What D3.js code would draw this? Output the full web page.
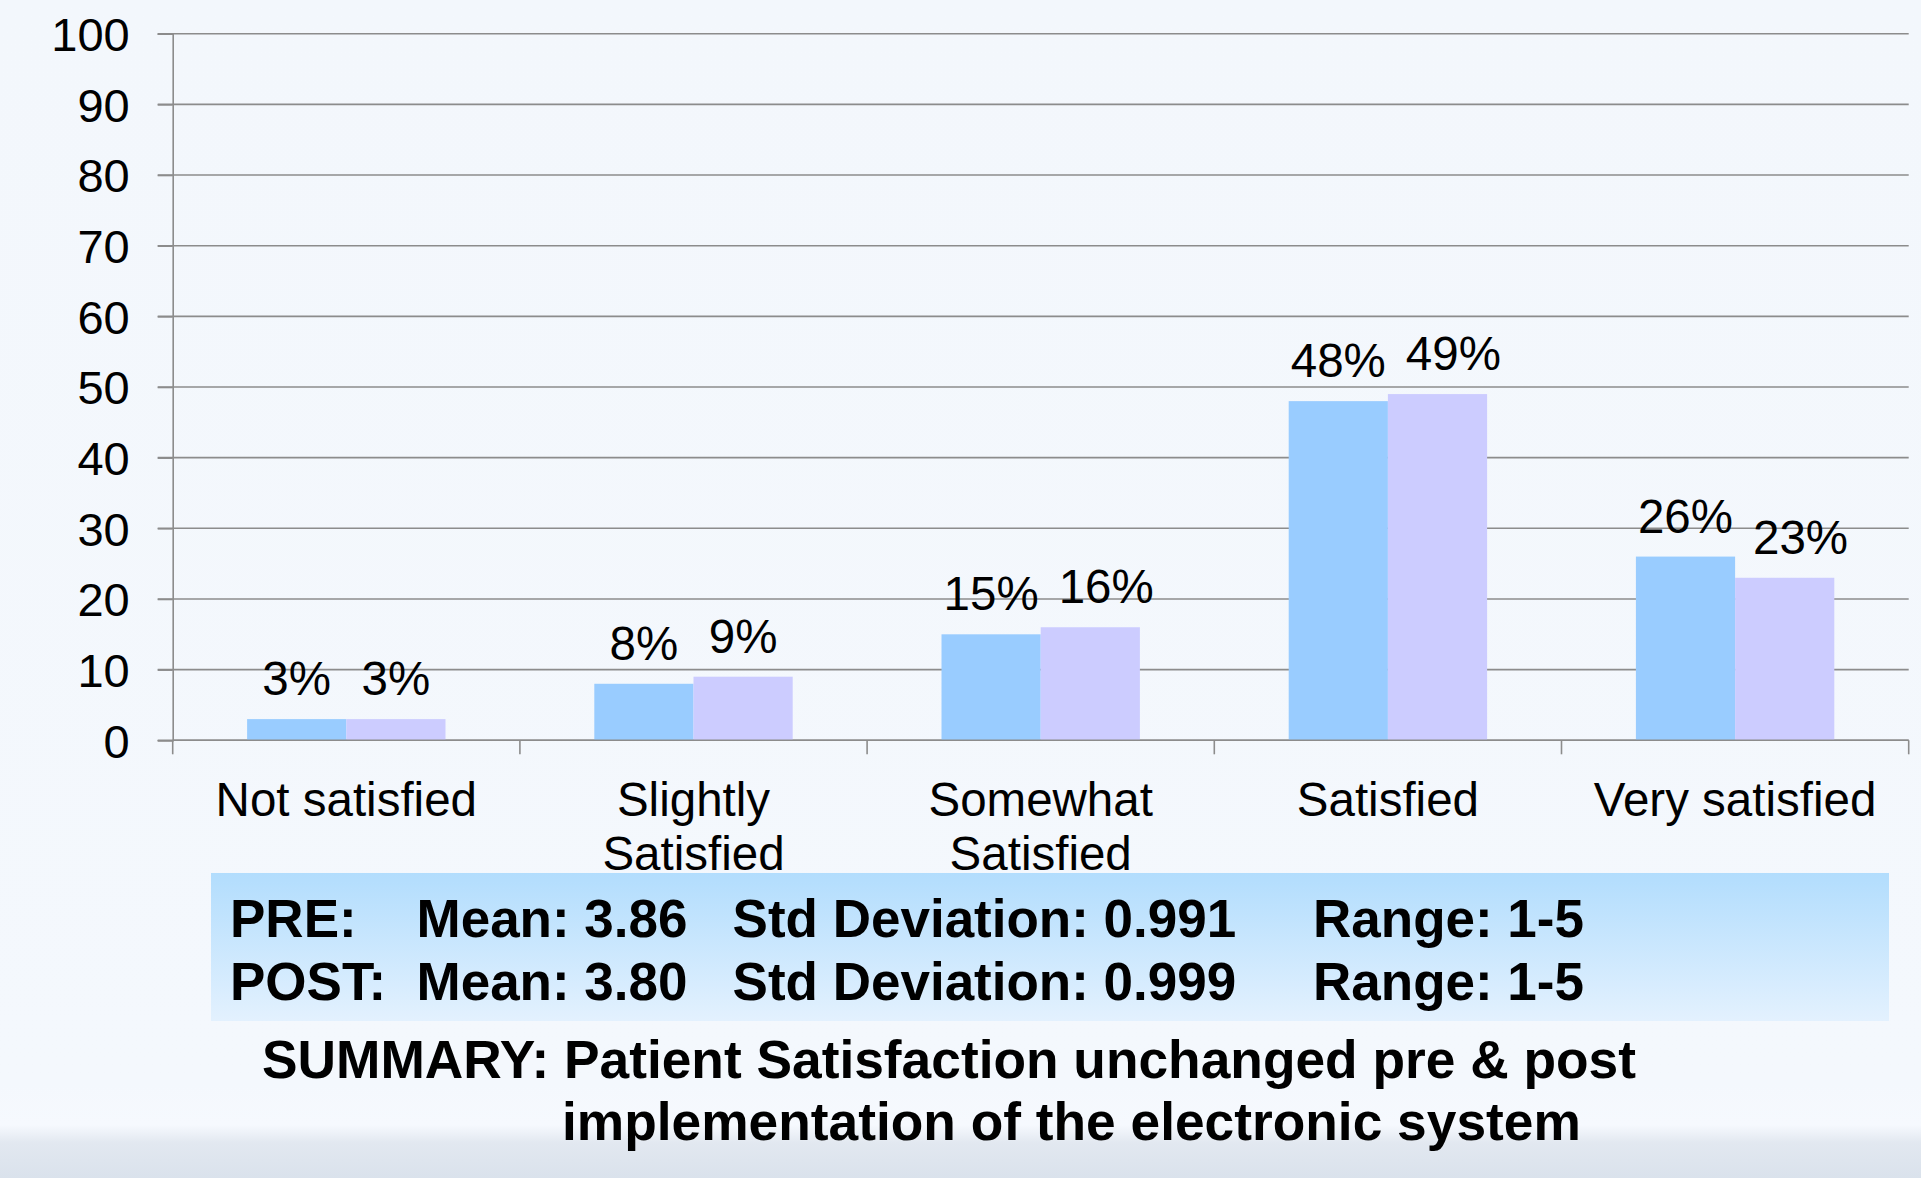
<!DOCTYPE html>
<html>
<head>
<meta charset="utf-8">
<script src="https://cdn.jsdelivr.net/npm/d3@7"></script>
<style>
  html, body { margin: 0; padding: 0; background: #F3F7FC; }
  svg { display: block; }
  text { font-family: "Liberation Sans", Arial, Helvetica, sans-serif; }
</style>
</head>
<body>
<svg id="chart" width="1921" height="1178"></svg>
<script>
// ---- data ----
const categories = [["Not satisfied"], ["Slightly", "Satisfied"], ["Somewhat", "Satisfied"], ["Satisfied"], ["Very satisfied"]];
const series = ["PRE", "POST"];
const preValues = [3, 8, 15, 48, 26];
const postValues = [3, 9, 16, 49, 23];
const yTicks = [0, 10, 20, 30, 40, 50, 60, 70, 80, 90, 100];
const statsRows = [
  ["PRE:", "Mean: 3.86", "Std Deviation: 0.991", "Range: 1-5"],
  ["POST:", "Mean: 3.80", "Std Deviation: 0.999", "Range: 1-5"]
];
const summaryLines = ["SUMMARY: Patient Satisfaction unchanged pre & post", "implementation of the electronic system"];

// ---- layout ----
const W = 1921, H = 1178;
const plotLeft = 172.7, plotRight = 1908.7, plotTop = 33.7, plotBottom = 740.3;
const svg = d3.select("#chart");

// background
const defs = svg.append("defs");
const bg = defs.append("linearGradient").attr("id", "bgGrad").attr("x1", 0).attr("y1", 0).attr("x2", 0).attr("y2", 1);
bg.append("stop").attr("offset", "0").attr("stop-color", "#F3F7FC");
bg.append("stop").attr("offset", "0.92").attr("stop-color", "#F4F8FD");
bg.append("stop").attr("offset", "0.955").attr("stop-color", "#F6F9FE");
bg.append("stop").attr("offset", "0.97").attr("stop-color", "#E2E8F0");
bg.append("stop").attr("offset", "1").attr("stop-color", "#DAE2EC");
svg.append("rect").attr("width", W).attr("height", H).attr("fill", "url(#bgGrad)");

const boxGrad = defs.append("linearGradient").attr("id", "boxGrad").attr("x1", 0).attr("y1", 0).attr("x2", 0).attr("y2", 1);
boxGrad.append("stop").attr("offset", "0").attr("stop-color", "#B2DDFD");
boxGrad.append("stop").attr("offset", "1").attr("stop-color", "#E3F1FE");

// scales
const y = d3.scaleLinear().domain([0, 100]).range([plotBottom, plotTop]);
const x0 = d3.scaleBand().domain(d3.range(categories.length)).range([plotLeft, plotRight]).paddingInner(0).paddingOuter(0);
const x1 = d3.scaleBand().domain(series).range([0, x0.bandwidth()]).paddingInner(0).paddingOuter(0.75);
const colors = { PRE: "#99CCFF", POST: "#CCCCFF" };

const gridColor = "#8C8C8C";

// gridlines
svg.append("g").selectAll("line").data(yTicks).join("line")
  .attr("x1", plotLeft - 15).attr("x2", plotRight)
  .attr("y1", d => y(d)).attr("y2", d => y(d))
  .attr("stroke", gridColor).attr("stroke-width", 1.6);

// y axis
const yAxis = svg.append("g").attr("transform", `translate(${plotLeft},0)`)
  .call(d3.axisLeft(y).tickValues(yTicks).tickSize(15).tickPadding(28));
yAxis.select(".domain").attr("stroke", gridColor).attr("stroke-width", 1.6);
yAxis.selectAll(".tick line").attr("stroke", gridColor).attr("stroke-width", 1.6);
yAxis.selectAll(".tick text").attr("font-size", 47).attr("fill", "#000")
  .attr("font-family", "'Liberation Sans', Arial, sans-serif").attr("dy", "0.36em");

// bars
const rows = categories.map((c, i) => ({ i, vals: [{ s: "PRE", v: preValues[i] }, { s: "POST", v: postValues[i] }] }));
const groups = svg.append("g").selectAll("g").data(rows).join("g")
  .attr("transform", d => `translate(${x0(d.i)},0)`);
groups.selectAll("rect").data(d => d.vals).join("rect")
  .attr("x", d => x1(d.s)).attr("width", x1.bandwidth())
  .attr("y", d => y(d.v)).attr("height", d => y(0) - y(d.v))
  .attr("fill", d => colors[d.s]);

// x axis
const xAxisG = svg.append("g").attr("transform", `translate(0,${plotBottom})`);
xAxisG.append("line").attr("x1", plotLeft).attr("x2", plotRight).attr("y1", 0).attr("y2", 0)
  .attr("stroke", gridColor).attr("stroke-width", 1.6);
const tickPos = d3.range(categories.length + 1).map(i => i < categories.length ? x0(i) : x0(categories.length - 1) + x0.bandwidth());
xAxisG.selectAll("line.tk").data(tickPos).join("line").attr("class", "tk")
  .attr("x1", d => d).attr("x2", d => d).attr("y1", 0).attr("y2", 14)
  .attr("stroke", gridColor).attr("stroke-width", 1.6);
const catText = xAxisG.selectAll("text").data(categories).join("text")
  .attr("x", (d, i) => x0(i) + x0.bandwidth() / 2)
  .attr("y", 76)
  .attr("text-anchor", "middle").attr("font-size", 47.5).attr("fill", "#000");
catText.selectAll("tspan").data(d => d).join("tspan")
  .attr("x", function () { return d3.select(this.parentNode).attr("x"); })
  .attr("dy", (d, j) => j === 0 ? 0 : 54)
  .text(d => d);

// data labels
const labelFont = 47.5, labelGap = 24;
const labelG = svg.append("g");
rows.forEach(r => {
  const bx = x0(r.i);
  const placed = [];
  r.vals.forEach(d => {
    const t = labelG.append("text")
      .attr("x", bx + x1(d.s) + x1.bandwidth() / 2)
      .attr("y", y(d.v) - labelGap)
      .attr("text-anchor", "middle").attr("font-size", labelFont).attr("fill", "#000")
      .text(d.v + "%");
    const bb = t.node().getBBox();
    placed.forEach(p => {
      const vOverlap = Math.abs(p.bb.y - bb.y) < labelFont;
      const minGap = 20;
      if (vOverlap && bb.x < p.bb.x + p.bb.width + minGap) {
        const shift = p.bb.x + p.bb.width + minGap - bb.x;
        t.attr("x", +t.attr("x") + shift);
        bb.x += shift;
      }
    });
    placed.push({ bb });
  });
});

// stats box
svg.append("rect").attr("x", 211).attr("y", 873).attr("width", 1678).attr("height", 148).attr("fill", "url(#boxGrad)");
const statCols = [230, 416.5, 732.6, 1313];
const statBase = [937, 1000];
const statsG = svg.append("g");
statsRows.forEach((row, ri) => {
  row.forEach((txt, ci) => {
    statsG.append("text").attr("x", statCols[ci]).attr("y", statBase[ri])
      .attr("font-size", 53).attr("font-weight", "bold").attr("fill", "#000").text(txt);
  });
});

// summary
const sumX = [262, 562], sumY = [1078, 1140];
summaryLines.forEach((s, i) => {
  svg.append("text").attr("x", sumX[i]).attr("y", sumY[i])
    .attr("font-size", 53.3).attr("font-weight", "bold").attr("fill", "#000").text(s);
});
</script>
</body>
</html>
